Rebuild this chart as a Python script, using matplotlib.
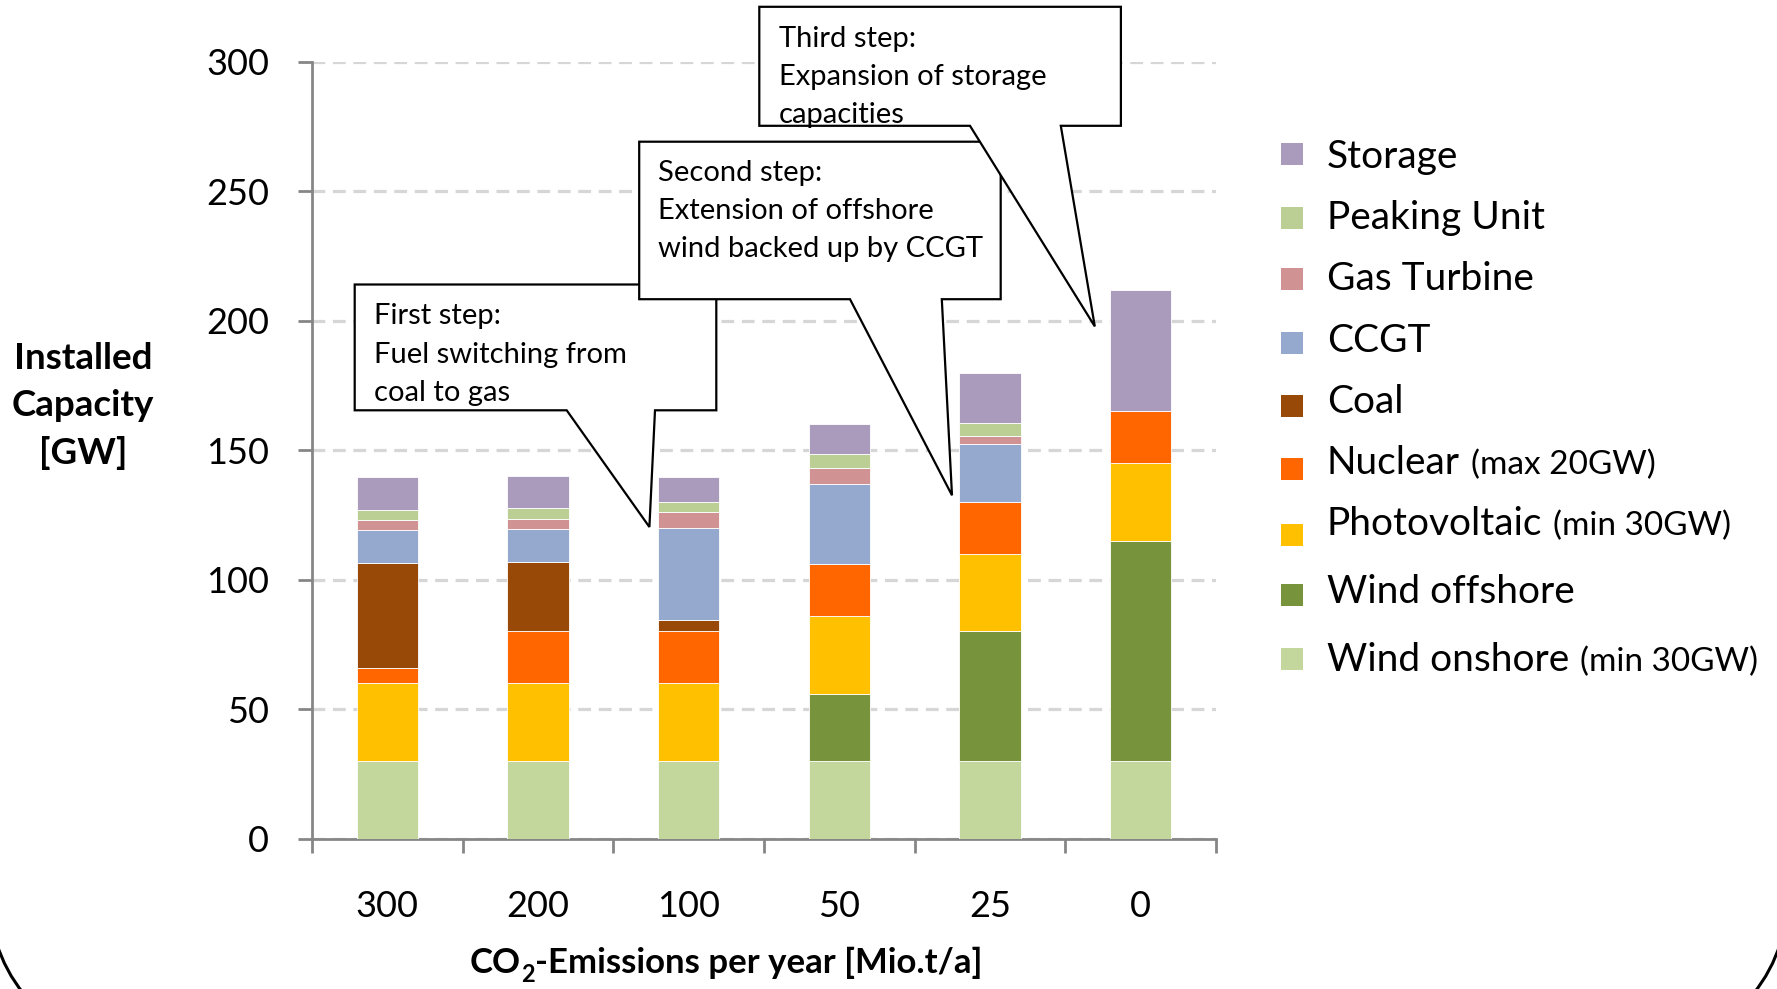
import numpy as np
import matplotlib
matplotlib.use("Agg")
import matplotlib.pyplot as plt
from matplotlib.patches import Polygon, Rectangle, Arc
from matplotlib.transforms import IdentityTransform

plt.rcParams['font.family'] = ['Lato', 'DejaVu Sans']

# --- Données (GW) ---
categories = ['300', '200', '100', '50', '25', '0']
wind_onshore = [30, 30, 30, 30, 30, 30]
wind_offshore = [0, 0, 0, 26, 50, 85]
photovoltaic = [30, 30, 30, 30, 30, 30]
nuclear = [6, 20, 20, 20, 20, 20]
coal = [40.5, 27, 4.5, 0, 0, 0]
ccgt = [12.5, 12.5, 35.5, 31, 22.5, 0]
gas_turbine = [4, 4, 6, 6, 3, 0]
peaking_unit = [4, 4, 4, 5.5, 5, 0]
storage = [12.5, 12.5, 9.7, 11.5, 19.5, 47]

series = [
    ("Wind onshore", wind_onshore, '#C3D69B'),
    ("Wind offshore", wind_offshore, '#77933C'),
    ("Photovoltaic", photovoltaic, '#FFC000'),
    ("Nuclear", nuclear, '#FF6600'),
    ("Coal", coal, '#984807'),
    ("CCGT", ccgt, '#95A9CF'),
    ("Gas Turbine", gas_turbine, '#D09292'),
    ("Peaking Unit", peaking_unit, '#BBCF95'),
    ("Storage", storage, '#AA9BBD'),
]

# legende : (texte principal, complément, couleur)
legend_rows = [
    ("Storage", "", '#AA9BBD'),
    ("Peaking Unit", "", '#BBCF95'),
    ("Gas Turbine", "", '#D09292'),
    ("CCGT", "", '#95A9CF'),
    ("Coal", "", '#984807'),
    ("Nuclear", "(max 20GW)", '#FF6600'),
    ("Photovoltaic", "(min 30GW)", '#FFC000'),
    ("Wind offshore", "", '#77933C'),
    ("Wind onshore", "(min 30GW)", '#C3D69B'),
]

W, H = 1777, 989
fig = plt.figure(figsize=(W / 100, H / 100), dpi=100)


def fx(x):
    return x / W


def fy(y):
    return 1 - y / H


ax = fig.add_axes([fx(312), fy(838.5), fx(1216) - fx(312), fy(62) - fy(838.5)])

x = np.arange(len(categories))
bottom = np.zeros(len(categories))
for name, vals, col in series:
    ax.bar(x, vals, width=0.405, bottom=bottom, color=col, edgecolor='white',
           linewidth=0.6, zorder=3)
    bottom += np.array(vals)

ax.set_xlim(-0.5, len(categories) - 0.5)
ax.set_ylim(0, 300)
ax.set_yticks(np.arange(0, 301, 50))
ax.yaxis.grid(True, color='#D6D6D6', linewidth=2.3, linestyle=(0, (4, 2.4)), zorder=0)
ax.set_axisbelow(True)

ax.set_xticks(np.arange(-0.5, len(categories), 1.0))
ax.set_xticklabels([])
ax.set_xticks(x, minor=True)
ax.set_xticklabels(categories, minor=True)
ax.tick_params(axis='x', which='major', length=10, width=2, color='#868686', direction='out')
ax.tick_params(axis='x', which='minor', length=0, pad=37, labelsize=26)
ax.tick_params(axis='y', length=10, width=2, color='#868686', direction='out', pad=21, labelsize=26)

for s in ['top', 'right']:
    ax.spines[s].set_visible(False)
for s in ['left', 'bottom']:
    ax.spines[s].set_color('#868686')
    ax.spines[s].set_linewidth(2)

fig.canvas.draw()
renderer = fig.canvas.get_renderer()

# titres d'axes
fig.text(fx(83), fy(406), "Installed\nCapacity\n[GW]", ha='center', va='center',
         fontsize=26.5, fontweight='bold', linespacing=1.5)

# CO2 avec indice bas, en trois morceaux
pieces = [("CO", 25, 0), ("2", 17, 9), ("-Emissions per year [Mio.t/a]", 25, 0)]
textes = []
for txt, fs, dy in pieces:
    t = fig.text(0, fy(973 + dy), txt, ha='left', va='baseline', fontsize=fs, fontweight='bold')
    textes.append(t)
largeurs = [t.get_window_extent(renderer).width for t in textes]
x0 = 726 - sum(largeurs) / 2
for t, w in zip(textes, largeurs):
    t.set_x(fx(x0))
    x0 += w

# bulles d'annotation
callouts = [
    # (gauche, haut, droite, bas, base gauche, base droite, pointe, lignes, x texte, y lignes)
    (354.7, 284.5, 716.3, 410.3, 566.7, 655.0, (649.4, 527.0),
     ["First step:", "Fuel switching from", "coal to gas"], 374, [316, 354.6, 393]),
    (639.2, 141.7, 1000.7, 299.2, 850.0, 941.8, (952.0, 495.3),
     ["Second step:", "Extension of offshore", "wind backed up by CCGT"], 658.5, [173, 211, 249]),
    (759.3, 6.8, 1120.9, 125.8, 970.0, 1060.8, (1094.8, 326.4),
     ["Third step:", "Expansion of storage", "capacities"], 778.6, [39, 76.5, 114.5]),
]
for k, (l, t, r, b, bl, br, tip, lines, tx, tys) in enumerate(callouts):
    pts = [(l, t), (r, t), (r, b), (br, b), tip, (bl, b), (l, b)]
    poly = Polygon([(fx(px), fy(py)) for px, py in pts], closed=True, transform=fig.transFigure,
                   facecolor='white', edgecolor='black', linewidth=1.6, zorder=5 + k)
    fig.add_artist(poly)
    for line, ty in zip(lines, tys):
        fig.text(fx(tx), fy(ty), line, ha='left', va='center', fontsize=21, zorder=5.5 + k)

# legende manuelle
label_y = [157, 218, 279.5, 340.7, 402, 463, 524, 592, 660]
marker_y = [154, 217.6, 279, 343, 405.7, 469, 535, 595, 658.5]
for (main, extra, col), ly, my in zip(legend_rows, label_y, marker_y):
    fig.add_artist(Rectangle((fx(1281), fy(my + 11)), fx(22), 22 / H, transform=fig.transFigure,
                             facecolor=col, edgecolor='none'))
    t = fig.text(fx(1327), fy(ly), main, ha='left', va='center', fontsize=28)
    if extra:
        bb = t.get_window_extent(renderer)
        fig.text(bb.x1 / W + fx(11), fy(ly + 2), extra, ha='left', va='center', fontsize=24)

# cadre arrondi de la diapositive (coins bas)
for cx, a1, a2 in [(140, 180, 270), (W - 140, 270, 360)]:
    arc = Arc((cx, 90), 300, 300, theta1=a1, theta2=a2, transform=IdentityTransform(),
              color='black', linewidth=2.2, zorder=10)
    fig.add_artist(arc)

fig.savefig("out.png", dpi=100)
